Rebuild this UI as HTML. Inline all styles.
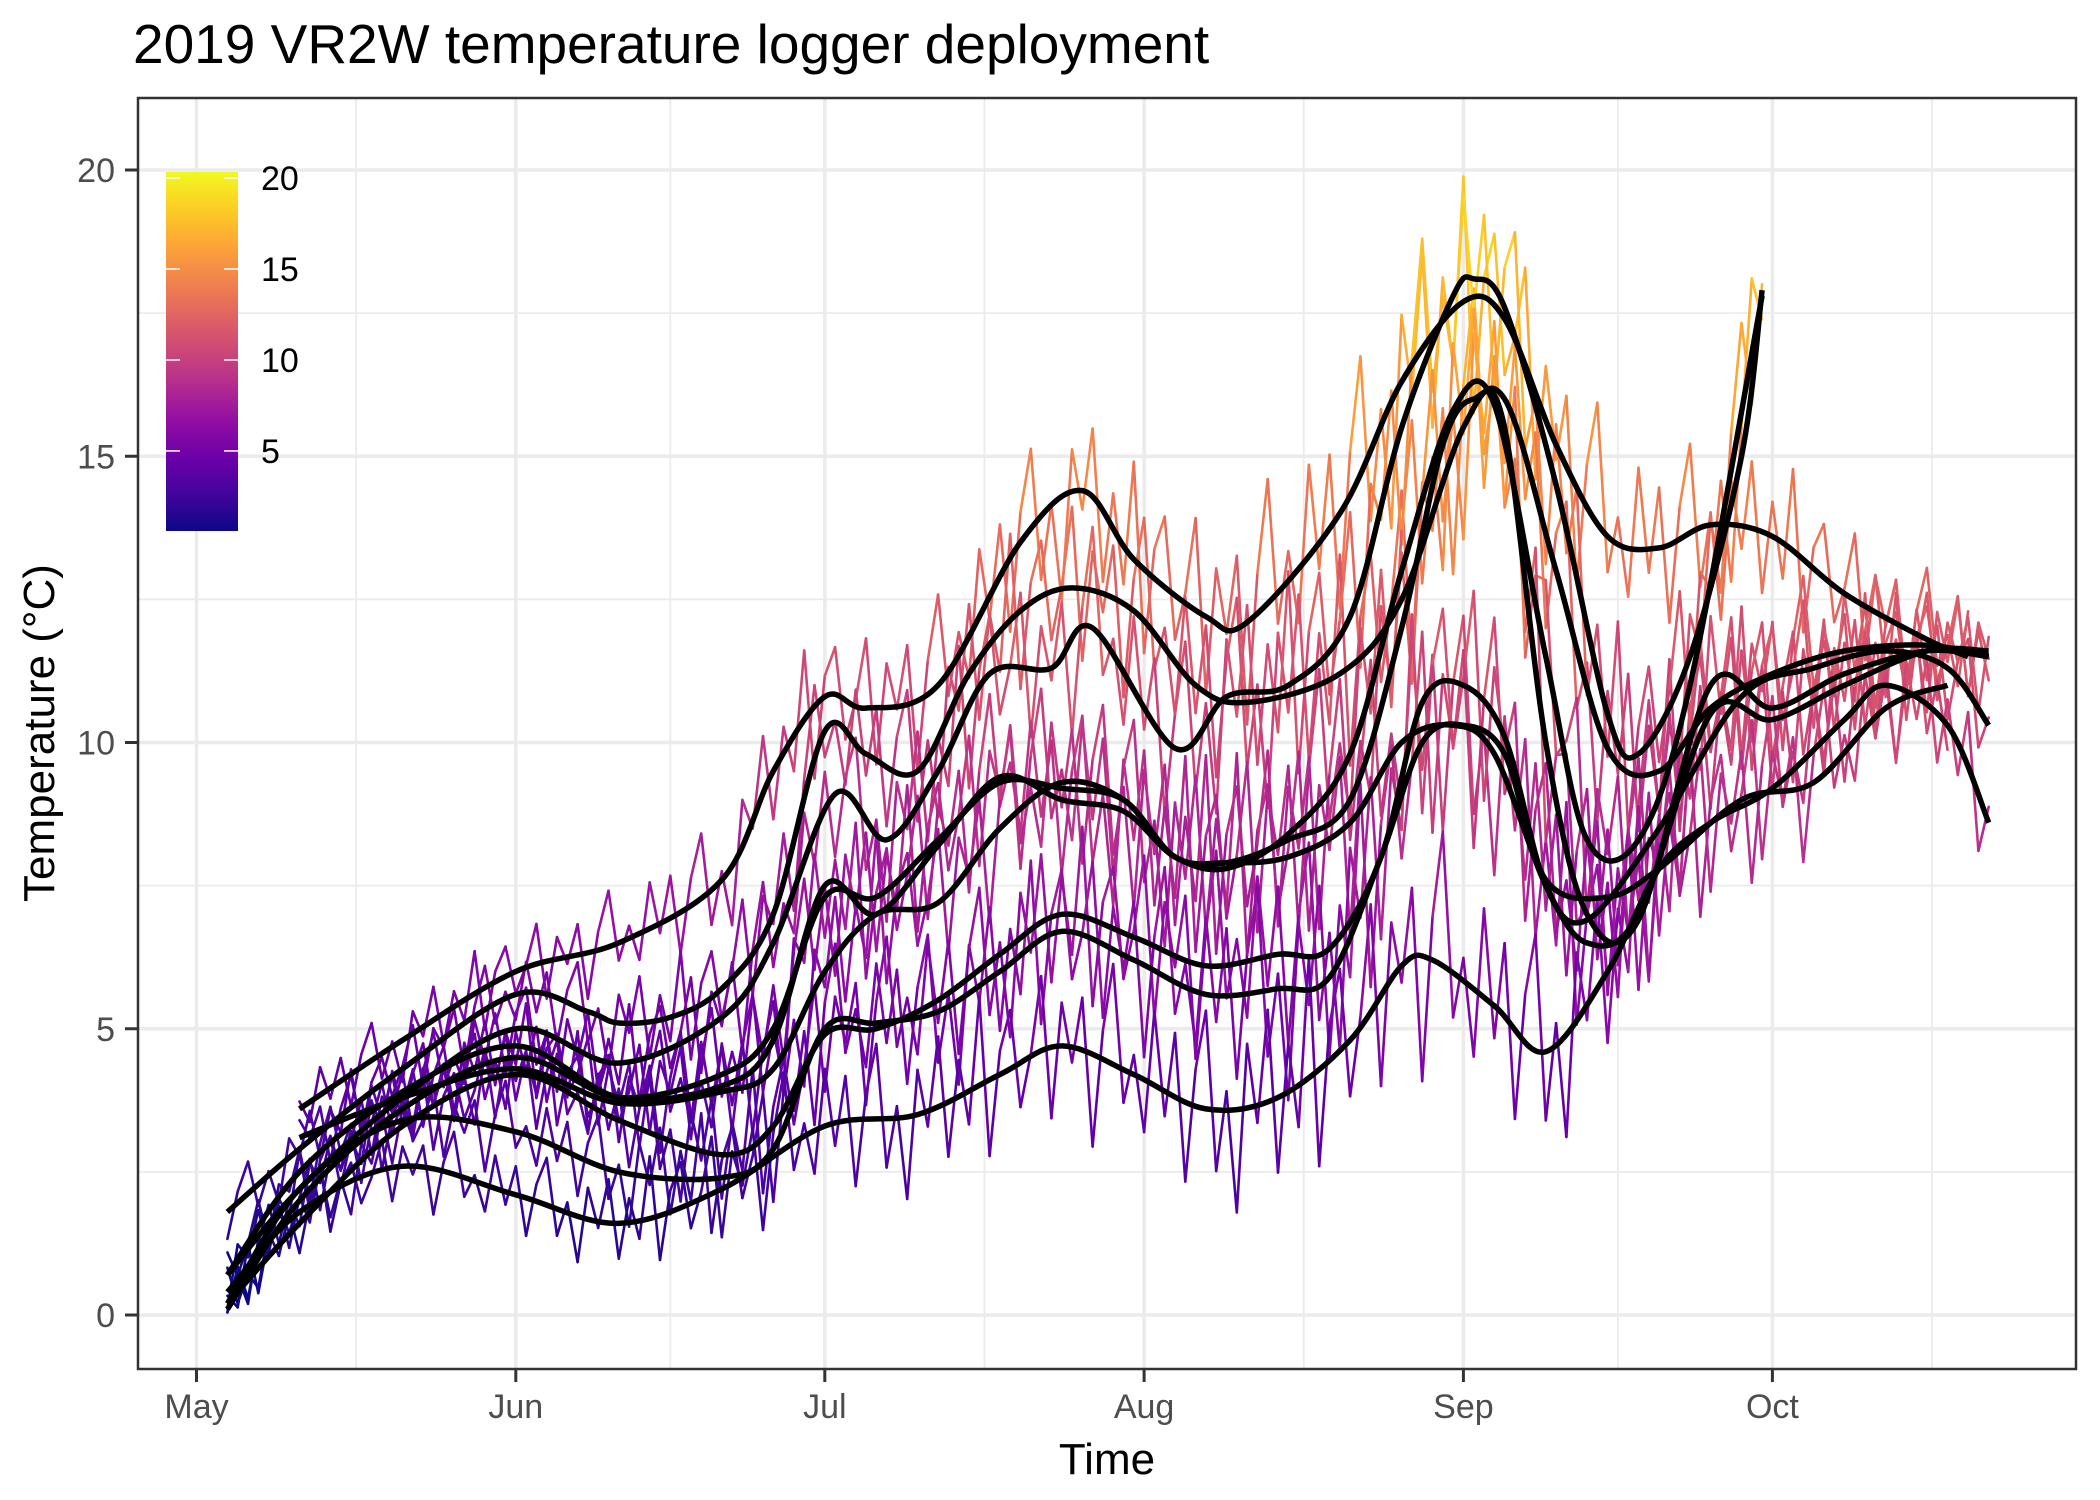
<!DOCTYPE html>
<html><head><meta charset="utf-8">
<style>
html,body{margin:0;padding:0;background:#fff;}
svg{display:block;font-family:"Liberation Sans",Arial,sans-serif;}
</style></head>
<body>
<svg id="chart" width="2100" height="1500" viewBox="0 0 2100 1500">
<defs>
<linearGradient id="plasma" x1="0" y1="1" x2="0" y2="0">
<stop offset="0" stop-color="#0d0887"/><stop offset="0.1" stop-color="#41049d"/><stop offset="0.2" stop-color="#6a00a8"/><stop offset="0.3" stop-color="#8f0da4"/><stop offset="0.4" stop-color="#b12a90"/><stop offset="0.5" stop-color="#cc4778"/><stop offset="0.6" stop-color="#e16462"/><stop offset="0.7" stop-color="#f2844b"/><stop offset="0.8" stop-color="#fca636"/><stop offset="0.9" stop-color="#fcce25"/><stop offset="1" stop-color="#f0f921"/>
</linearGradient>
<clipPath id="pclip"><rect x="138" y="98" width="1938" height="1271"/></clipPath>
</defs>
<text x="133" y="63" font-size="55" fill="#000">2019 VR2W temperature logger deployment</text>
<g id="grid"></g>
<g id="raw" clip-path="url(#pclip)"></g>
<g id="smooth" clip-path="url(#pclip)"></g>
<rect x="138" y="98" width="1938" height="1271" fill="none" stroke="#333" stroke-width="2.5"/>
<g id="axes"></g>
<text x="1107" y="1474" font-size="44" text-anchor="middle" fill="#000">Time</text>
<text transform="translate(54,733) rotate(-90)" font-size="44" text-anchor="middle" fill="#000">Temperature (°C)</text>
<g id="legend">
<rect x="166" y="172" width="72" height="359" fill="url(#plasma)"/>
</g>
</svg>
<script>
// ---- data ----
const monthLabels = ["May","Jun","Jul","Aug","Sep","Oct"];
const monthDays = [0,31,61,92,123,153];
const yTicks = [0,5,10,15,20];
const legendTicks = [5,10,15,20];
// smoothed series: day-of-season (0 = May 1) and temperature
const s1Days = [10,20,31,41,51,56,61,65,72,80,86,91,98,102,111,117,123,127,132,137,142,147,153,160,168,172];
const s1Vals = [3.6,4.8,6.0,6.5,7.6,9.5,10.8,10.6,11.0,13.5,14.4,13.2,12.2,12.1,14.0,16.3,17.7,17.4,15.2,13.6,13.4,13.8,13.6,12.6,11.8,11.5];
const s2Days = [3,10,20,31,38,41,46,51,56,61,65,70,75,80,85,91,97,102,111,117,123,127,132,137,142,147,153,160,168,174];
const s2Vals = [1.8,2.9,4.3,5.6,5.3,5.1,5.2,5.7,7.0,10.2,9.8,9.5,11.2,12.3,12.7,12.3,11.0,10.7,11.2,12.5,15.5,16.0,13.0,9.9,9.5,10.6,11.2,11.6,11.7,11.5];
const s3Days = [3,10,20,31,41,51,56,62,67,72,77,83,87,95,100,106,112,117,122,124,127,132,137,140,145,150,152];
const s3Vals = [0.7,2.2,3.8,5.0,4.4,5.2,6.5,9.1,8.3,9.5,11.2,11.3,12.0,9.9,10.8,11.0,12.2,15.5,17.8,18.1,17.6,14.5,10.5,9.8,11.5,15.0,17.9];
const s4Days = [3,10,20,31,41,51,56,61,66,72,78,84,90,95,100,106,112,117,122,126,131,135,140,147,153,160,168,174];
const s4Vals = [0.1,2.0,3.6,4.5,3.8,4.2,5.0,7.3,7.3,8.3,9.3,9.2,9.0,8.0,7.9,8.0,8.6,10.0,10.3,9.8,7.5,6.5,7.0,10.5,10.4,11.0,11.6,11.6];
const s5Days = [3,10,20,31,41,51,56,61,66,72,78,84,90,95,100,106,112,117,122,126,131,135,140,145,152];
const s5Vals = [0.7,2.5,3.9,4.7,3.8,4.0,4.8,7.5,7.0,8.2,9.4,9.0,8.8,8.0,7.8,8.4,9.8,13.0,15.8,15.9,11.5,8.3,8.3,11.0,17.8];
const s6Days = [10,20,31,41,51,56,61,66,72,78,84,90,95,100,106,112,117,121,124,127,131,135,140,147,153,160,168,174];
const s6Vals = [3.1,3.8,4.3,3.7,3.9,4.3,6.0,7.0,7.2,8.5,9.3,9.0,8.0,7.9,8.3,9.0,12.0,15.2,16.0,15.5,10.0,7.0,6.9,11.0,10.6,11.2,11.6,11.5];
const s7Days = [3,10,20,31,41,51,56,61,66,72,78,84,91,98,105,110,115,119,123,127,131,135,142,150,157,164,170,174];
const s7Vals = [0.2,1.6,3.3,4.2,3.4,2.8,3.3,4.9,5.0,5.5,6.3,7.0,6.6,6.1,6.3,6.4,8.0,10.7,11.0,10.1,7.5,6.9,8.5,10.8,11.3,11.6,11.3,10.3];
const s8Days = [3,10,20,31,41,51,56,61,66,72,78,84,91,98,105,110,115,119,123,127,131,137,142,150,157,164,170];
const s8Vals = [0.2,2.2,3.4,3.2,2.5,2.4,2.9,5.0,5.1,5.3,6.0,6.7,6.2,5.6,5.7,5.9,8.0,10.0,10.3,9.8,7.6,7.3,7.8,9.0,9.3,10.6,11.0];
const s9Days = [3,10,20,31,41,51,61,70,78,84,91,98,105,112,117,120,126,131,137,142,147,153,160,164,170,174];
const s9Vals = [0.4,1.8,2.6,2.1,1.6,2.2,3.3,3.5,4.2,4.7,4.2,3.6,3.8,4.8,6.1,6.2,5.4,4.6,6.0,7.8,8.6,9.2,10.4,11.0,10.3,8.6];
const seriesDays = [s1Days,s2Days,s3Days,s4Days,s5Days,s6Days,s7Days,s8Days,s9Days];
const seriesVals = [s1Vals,s2Vals,s3Vals,s4Vals,s5Vals,s6Vals,s7Vals,s8Vals,s9Vals];
// day-to-day fluctuation pattern of raw logger readings (°C deviation)
const rawDeviation = [0.3,-0.8,1.1,-0.4,0.9,-1.2,0.5,1.4,-0.9,0.2,-1.5,0.8,-0.3,1.2,-1.0,0.6,-0.6,1.5,-1.3,0.4,1.0,-0.7,0.1,1.3,-1.1,0.7,-0.2,0.9,-1.4,0.5,1.6,-0.5];
const ampDays = [0,40,60,90,120,140,175];
const ampVals = [0.5,0.8,1.2,1.5,2.0,1.6,0.9];

// ---- scales ----
const X0=196.5, XD=10.30, Y0=1315, YU=57.25;
const xs = d => X0 + d*XD;
const ys = v => Y0 - v*YU;
const NS='http://www.w3.org/2000/svg';
function mk(tag, parent){const e=document.createElementNS(NS,tag);parent.appendChild(e);return e;}
const plasmaStops=["#0d0887","#41049d","#6a00a8","#8f0da4","#b12a90","#cc4778","#e16462","#f2844b","#fca636","#fcce25","#f0f921"];
function hex(h){return [1,3,5].map(i=>parseInt(h.substr(i,2),16));}
function plasma(v){let t=(v-0.6)/(20.33-0.6);t=Math.max(0,Math.min(1,t));const p=t*10,i=Math.min(9,Math.floor(p)),f=p-i;const a=hex(plasmaStops[i]),b=hex(plasmaStops[i+1]);return 'rgb('+a.map((c,k)=>Math.round(c+(b[k]-c)*f)).join(',')+')';}
function interp(ds,vs,d){if(d<=ds[0])return vs[0];for(let i=1;i<ds.length;i++){if(d<=ds[i]){const f=(d-ds[i-1])/(ds[i]-ds[i-1]);return vs[i-1]+(vs[i]-vs[i-1])*f;}}return vs[vs.length-1];}

// ---- grid ----
const grid=document.getElementById('grid');
for(let v=-0.0;v<=20;v+=2.5){const major=(v%5===0);const l=mk('line',grid);
l.setAttribute('x1',138);l.setAttribute('x2',2076);l.setAttribute('y1',ys(v));l.setAttribute('y2',ys(v));
l.setAttribute('stroke','#ebebeb');l.setAttribute('stroke-width',major?3.5:1.8);

}
const minorDays=[];for(let i=0;i<monthDays.length;i++){const nd=i<monthDays.length-1?monthDays[i+1]:184;minorDays.push((monthDays[i]+nd)/2);}
minorDays.push(-15.5);
monthDays.forEach(d=>{const l=mk('line',grid);l.setAttribute('x1',xs(d));l.setAttribute('x2',xs(d));l.setAttribute('y1',98);l.setAttribute('y2',1369);l.setAttribute('stroke','#ebebeb');l.setAttribute('stroke-width',3.5);

});
minorDays.forEach(d=>{if(xs(d)<138||xs(d)>2076)return;const l=mk('line',grid);l.setAttribute('x1',xs(d));l.setAttribute('x2',xs(d));l.setAttribute('y1',98);l.setAttribute('y2',1369);l.setAttribute('stroke','#ebebeb');l.setAttribute('stroke-width',1.8);

});

// ---- raw lines ----
const raw=document.getElementById('raw');
seriesDays.forEach((ds,si)=>{const vs=seriesVals[si];const start=ds[0],end=ds[ds.length-1];
let prev=null;let k=si*5;
for(let d=start;d<=end+0.001;d+=1){const amp=interp(ampDays,ampVals,d);const v=interp(ds,vs,d)+amp*rawDeviation[(k++)%rawDeviation.length]*0.75;
if(prev){const l=mk('line',raw);l.setAttribute('x1',xs(prev[0]));l.setAttribute('y1',ys(prev[1]));l.setAttribute('x2',xs(d));l.setAttribute('y2',ys(v));
l.setAttribute('stroke',plasma((v+prev[1])/2));l.setAttribute('stroke-width',2.6);l.setAttribute('stroke-linecap','round');

}
prev=[d,v];}});

// ---- smoothers ----
const sm=document.getElementById('smooth');
seriesDays.forEach((ds,si)=>{const vs=seriesVals[si];const P=ds.map((d,i)=>[xs(d),ys(vs[i])]);
let p='M'+P[0][0]+','+P[0][1];
for(let i=0;i<P.length-1;i++){const a=P[Math.max(0,i-1)],b=P[i],c=P[i+1],e=P[Math.min(P.length-1,i+2)];
const c1=[b[0]+(c[0]-a[0])/6,b[1]+(c[1]-a[1])/6],c2=[c[0]-(e[0]-b[0])/6,c[1]-(e[1]-b[1])/6];
p+=' C'+c1[0].toFixed(1)+','+c1[1].toFixed(1)+' '+c2[0].toFixed(1)+','+c2[1].toFixed(1)+' '+c[0].toFixed(1)+','+c[1].toFixed(1);}
const path=mk('path',sm);path.setAttribute('d',p);path.setAttribute('fill','none');path.setAttribute('stroke','#000');path.setAttribute('stroke-width',5.5);path.setAttribute('stroke-linejoin','round');

});

// ---- axes ----
const ax=document.getElementById('axes');
yTicks.forEach(v=>{const t=mk('line',ax);t.setAttribute('x1',125);t.setAttribute('x2',138);t.setAttribute('y1',ys(v));t.setAttribute('y2',ys(v));t.setAttribute('stroke','#333');t.setAttribute('stroke-width',3);


const tx=mk('text',ax);tx.setAttribute('x',115);tx.setAttribute('y',ys(v)+12);tx.setAttribute('text-anchor','end');tx.setAttribute('font-size',34);tx.setAttribute('fill','#4d4d4d');tx.textContent=v;

});
monthDays.forEach((d,i)=>{const t=mk('line',ax);t.setAttribute('x1',xs(d));t.setAttribute('x2',xs(d));t.setAttribute('y1',1369);t.setAttribute('y2',1382);t.setAttribute('stroke','#333');t.setAttribute('stroke-width',3);


const tx=mk('text',ax);tx.setAttribute('x',xs(d));tx.setAttribute('y',1418);tx.setAttribute('text-anchor','middle');tx.setAttribute('font-size',34);tx.setAttribute('fill','#4d4d4d');tx.textContent=monthLabels[i];

});

// ---- legend ----
const lg=document.getElementById('legend');
const ly=v=>531-(v-0.6)*(359/(20.33-0.6));
legendTicks.forEach(v=>{[[166,180],[224,238]].forEach(xx=>{const t=mk('line',lg);t.setAttribute('x1',xx[0]);t.setAttribute('x2',xx[1]);t.setAttribute('y1',ly(v));t.setAttribute('y2',ly(v));t.setAttribute('stroke','#fff');t.setAttribute('stroke-width',1.5);

});
const tx=mk('text',lg);tx.setAttribute('x',261);tx.setAttribute('y',ly(v)+12);tx.setAttribute('font-size',34);tx.setAttribute('fill','#000');tx.textContent=v;

});
</script>
</body></html>
